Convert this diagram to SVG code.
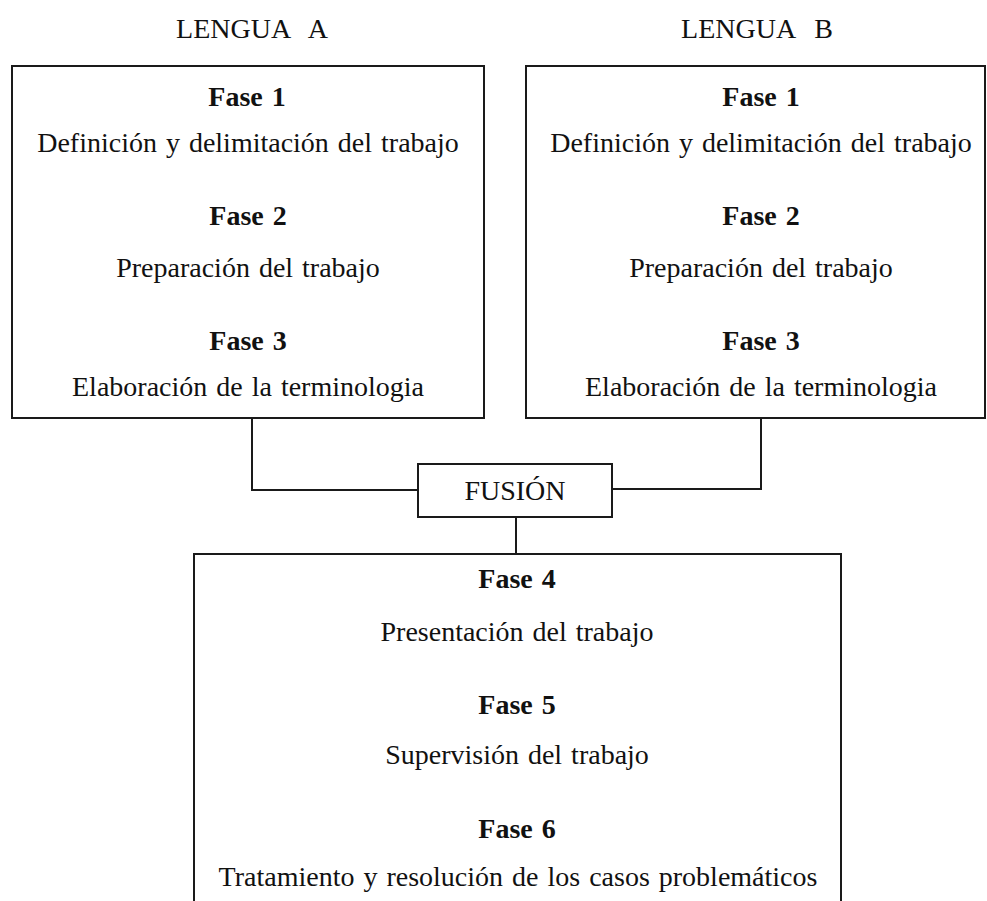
<svg xmlns="http://www.w3.org/2000/svg" width="987" height="901" viewBox="0 0 987 901">
<style>
.box{fill:none;stroke:#1a1a1a;stroke-width:2}
.conn{fill:none;stroke:#1a1a1a;stroke-width:2}
text{font-family:"Liberation Serif","Times New Roman",serif;font-size:28px;fill:#111;text-anchor:middle;word-spacing:2px}
.b{font-weight:bold}
</style>
<rect width="987" height="901" fill="#fff"/>
<text x="252" y="38">LENGUA&#160; A</text>
<text x="757" y="38">LENGUA&#160; B</text>
<g id="lenguaA">
<rect class="box" x="12" y="66" width="472" height="352"/>
<text class="b" x="247" y="106">Fase 1</text>
<text x="248" y="152">Definición y delimitación del trabajo</text>
<text class="b" x="248" y="225">Fase 2</text>
<text x="248" y="277">Preparación del trabajo</text>
<text class="b" x="248" y="350">Fase 3</text>
<text x="248" y="396">Elaboración de la terminologia</text>
</g>
<g id="lenguaB">
<rect class="box" x="526" y="66" width="459" height="352"/>
<text class="b" x="761" y="106">Fase 1</text>
<text x="761" y="152">Definición y delimitación del trabajo</text>
<text class="b" x="761" y="225">Fase 2</text>
<text x="761" y="277">Preparación del trabajo</text>
<text class="b" x="761" y="350">Fase 3</text>
<text x="761" y="396">Elaboración de la terminologia</text>
</g>
<g id="fusion">
<rect class="box" x="418" y="464" width="194" height="53"/>
<text x="515" y="500">FUSIÓN</text>
</g>
<g id="fases456">
<path class="box" d="M194,905 V554 H841 V905"/>
<text class="b" x="517" y="588">Fase 4</text>
<text x="517" y="641">Presentación del trabajo</text>
<text class="b" x="517" y="714">Fase 5</text>
<text x="517" y="764">Supervisión del trabajo</text>
<text class="b" x="517" y="838">Fase 6</text>
<text x="518" y="886">Tratamiento y resolución de los casos problemáticos</text>
</g>
<g id="connectors">
<polyline class="conn" points="252,418 252,490 418,490"/>
<polyline class="conn" points="612,489 761,489 761,418"/>
<line class="conn" x1="516" y1="517" x2="516" y2="554"/>
</g>
</svg>
